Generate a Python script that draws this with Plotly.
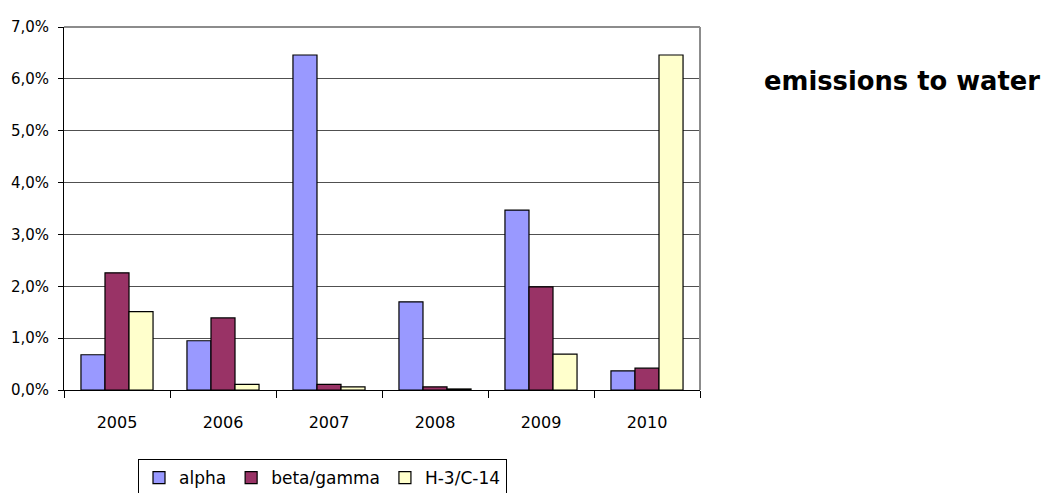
import plotly.graph_objects as go

years = ["2005", "2006", "2007", "2008", "2009", "2010"]
alpha = [0.68, 0.95, 6.46, 1.70, 3.47, 0.37]
beta_gamma = [2.26, 1.39, 0.11, 0.06, 1.99, 0.42]
h3_c14 = [1.51, 0.11, 0.06, 0.02, 0.69, 6.46]
y_ticks = [0, 1, 2, 3, 4, 5, 6, 7]
y_ticktext = ["0,0%", "1,0%", "2,0%", "3,0%", "4,0%", "5,0%", "6,0%", "7,0%"]

series = [
    ("alpha", alpha, "#9999FF"),
    ("beta/gamma", beta_gamma, "#993366"),
    ("H-3/C-14", h3_c14, "#FFFFCC"),
]

# page body has an 8px margin, so the figure starts at (8, 8)
OFF = 8
W, H = 1049 - OFF, 493 - OFF
L, R, T, B = 64 - OFF, 349, 27 - OFF, 103

fig = go.Figure()
for name, vals, color in series:
    fig.add_trace(go.Bar(
        x=years, y=vals, name=name,
        marker=dict(color=color, line=dict(color="black", width=1.2)),
    ))

pw = W - L - R
ph = H - T - B
fig.update_layout(
    width=W, height=H,
    margin=dict(l=L, r=R, t=T, b=B, autoexpand=False),
    paper_bgcolor="white", plot_bgcolor="white",
    barmode="group", bargap=0.32, bargroupgap=0,
    font=dict(family="DejaVu Sans", color="black", size=13),
    showlegend=True,
    legend=dict(
        orientation="h",
        xref="container", yref="container",
        x=(138 - OFF) / W, xanchor="left", y=1 - (459 - OFF) / H, yanchor="top",
        bordercolor="black", borderwidth=1, bgcolor="white",
        font=dict(size=17, family="DejaVu Sans"),
        itemwidth=30, tracegroupgap=0,
    ),
    annotations=[dict(
        text="<b>emissions to water</b>",
        x=(902 - OFF - L) / pw, xref="paper",
        y=((H - B) - (81 - OFF)) / ph, yref="paper",
        xanchor="center", yanchor="middle",
        showarrow=False, font=dict(size=25.8, family="DejaVu Sans", color="black"),
    )],
)

fig.update_xaxes(
    type="category", showline=True, linecolor="black", linewidth=1,
    ticks="outside", tickson="boundaries", ticklen=7, tickcolor="black",
    showgrid=False, tickfont=dict(size=16), ticklabelstandoff=18,
)
fig.update_yaxes(
    range=[0, 7], tickvals=y_ticks, ticktext=y_ticktext,
    showline=True, linecolor="black", linewidth=1,
    ticks="outside", ticklen=5, tickcolor="black",
    showgrid=True, gridcolor="#505050", gridwidth=1,
    zeroline=False, tickfont=dict(size=15), ticklabelstandoff=6,
)
# gray frame on the top and right of the plot area
fig.add_shape(type="line", xref="paper", yref="paper", x0=0, x1=1, y0=1, y1=1,
              line=dict(color="#8C8C8C", width=2))
fig.add_shape(type="line", xref="paper", yref="paper", x0=1, x1=1, y0=0, y1=1,
              line=dict(color="#8C8C8C", width=2))

fig.write_html("out.html")
